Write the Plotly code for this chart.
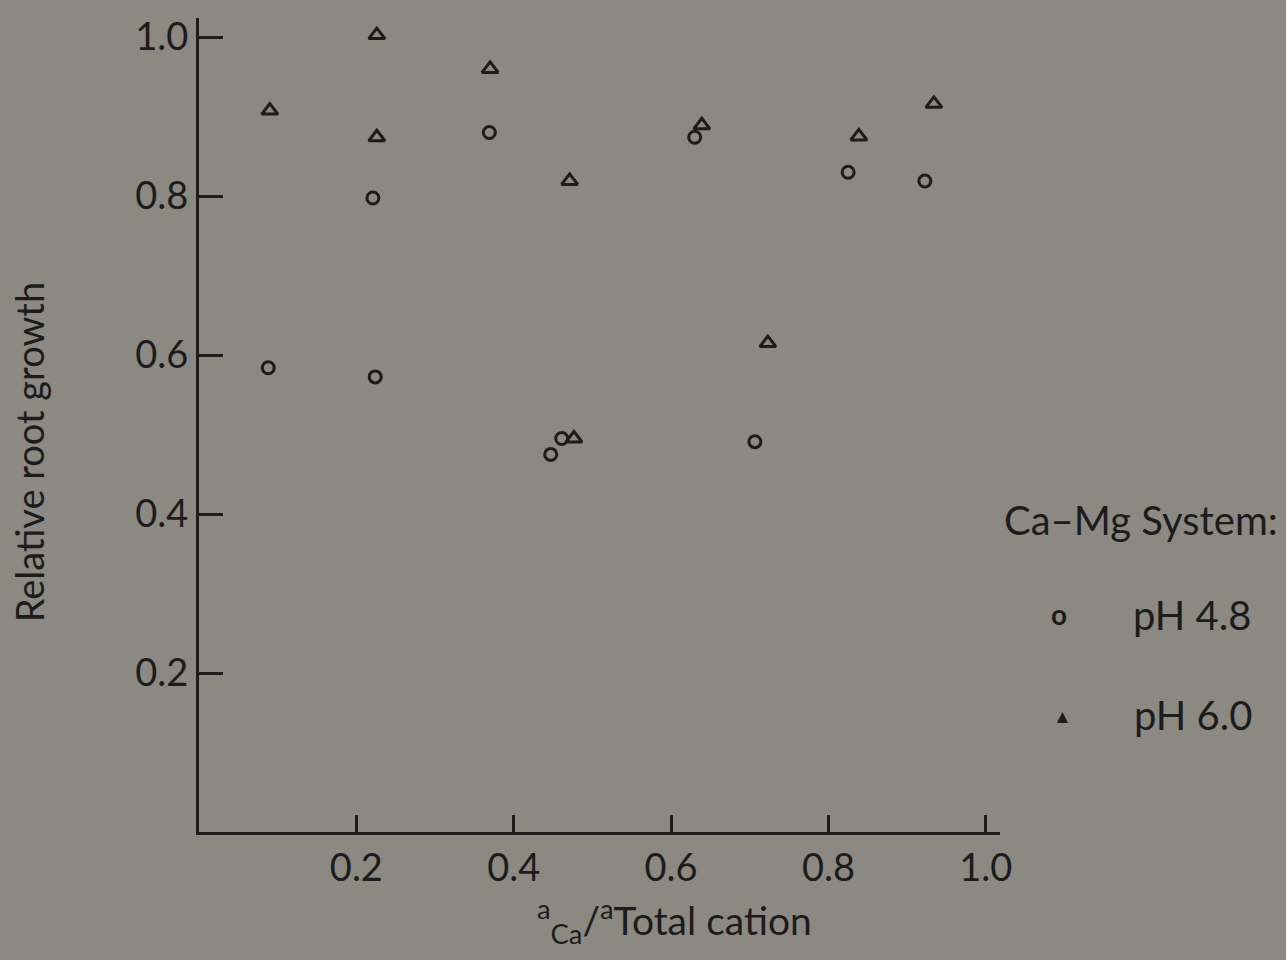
import plotly.graph_objects as go

# pH 4.8 (circles)
x_ph48 = [0.088, 0.224, 0.221, 0.369, 0.447, 0.461, 0.630, 0.7065, 0.825, 0.9225]
y_ph48 = [0.584, 0.5725, 0.7975, 0.880, 0.475, 0.495, 0.874, 0.491, 0.830, 0.819]
# pH 6.0 (triangles)
x_ph60 = [0.090, 0.226, 0.226, 0.370, 0.471, 0.4765, 0.639, 0.723, 0.8386, 0.934]
y_ph60 = [0.9075, 1.0025, 0.874, 0.960, 0.819, 0.495, 0.889, 0.615, 0.875, 0.916]

x_ticks = [0.2, 0.4, 0.6, 0.8, 1.0]
x_ticklabels = ["0.2", "0.4", "0.6", "0.8", "1.0"]
y_ticks = [0.2, 0.4, 0.6, 0.8, 1.0]
y_ticklabels = ["0.2", "0.4", "0.6", "0.8", "1.0"]

bg = "#8b8981"
ink = "#1c1c1c"
font_family = "Lato, 'Open Sans', sans-serif"

W, H = 1286, 960
pl, pr, pt, pb = 199, 286, 13, 128

fig = go.Figure()
fig.add_trace(go.Scatter(
    x=x_ph48, y=y_ph48, mode="markers", name="pH 4.8",
    marker=dict(symbol="circle-open", size=12, color=ink, line=dict(width=3, color=ink)),
))
fig.add_trace(go.Scatter(
    x=x_ph60, y=y_ph60, mode="markers", name="pH 6.0",
    marker=dict(symbol="triangle-up-open", size=14, color=ink, line=dict(width=3, color=ink)),
))

fig.update_layout(
    width=W, height=H,
    paper_bgcolor=bg, plot_bgcolor=bg,
    showlegend=False,
    margin=dict(l=pl, r=pr, t=pt, b=pb),
    font=dict(family=font_family, color=ink, size=36),
    xaxis=dict(
        range=[0, 1.018], tickvals=x_ticks, ticktext=x_ticklabels,
        ticks="inside", ticklen=17, tickwidth=2.5, tickcolor=ink,
        showline=True, linecolor=ink, linewidth=3, showgrid=False, zeroline=False,
        tickfont=dict(size=38, color=ink, family=font_family),
    ),
    yaxis=dict(
        range=[0, 1.024], tickvals=y_ticks, ticktext=y_ticklabels,
        ticks="inside", ticklen=24, tickwidth=2.5, tickcolor=ink,
        showline=True, linecolor=ink, linewidth=3, showgrid=False, zeroline=False,
        tickfont=dict(size=38, color=ink, family=font_family),
    ),
)

annotations = [
    dict(text="Relative root growth", x=29, y=450, textangle=-90,
         font=dict(size=38, color=ink, family=font_family)),
    dict(text="<sup>a</sup><sub>Ca</sub>/<sup>a</sup>Total cation", x=674, y=922,
         font=dict(size=39, color=ink, family=font_family)),
    dict(text="Ca\u2013Mg System:", x=1141, y=518,
         font=dict(size=40, color=ink, family=font_family)),
    dict(text="pH 4.8", x=1192, y=614,
         font=dict(size=40, color=ink, family=font_family)),
    dict(text="pH 6.0", x=1193, y=714,
         font=dict(size=40, color=ink, family=font_family)),
    dict(text="<b>o</b>", x=1059, y=613,
         font=dict(size=28, color=ink, family=font_family)),
    dict(text="\u25b2", x=1062, y=715,
         font=dict(size=19, color=ink, family=font_family)),
]
for a in annotations:
    px, py = a["x"], a["y"]
    a["x"] = (px - pl) / (W - pl - pr)
    a["y"] = 1 - (py - pt) / (H - pt - pb)
    a.update(xref="paper", yref="paper", showarrow=False, xanchor="center", yanchor="middle")
fig.update_layout(annotations=annotations)

fig.write_html("out.html", config={"displayModeBar": False},
               post_script="document.body.style.margin='0';document.body.style.background='" + bg + "';")
